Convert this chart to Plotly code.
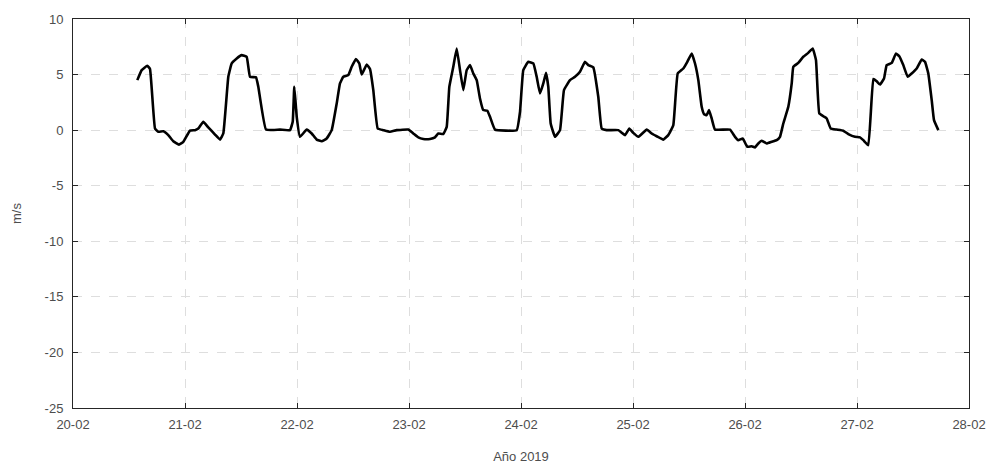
import pandas as pd
import plotly.graph_objects as go

# Hours since 2019-02-20 00:00 and wind speed (m/s)
hours = [13.78, 14.72, 15.92, 16.5, 17.57, 18.28, 19.35, 20.42, 21.49, 22.71, 23.64,
         25.07, 26.14, 26.85, 27.92, 28.99, 30.43, 31.5, 32.21, 33.28, 34.01, 35.08,
         36.15, 37.22, 37.93, 39.21, 39.71, 41.36, 44.36, 46.5, 47.08, 47.42, 47.94,
         48.64, 50.08, 51.15, 52.22, 53.29, 54.36, 55.44, 56.51, 57.21, 57.92, 58.99,
         59.72, 60.64, 61.35, 61.86, 62.94, 63.64, 64.35, 65.29, 66.49, 67.93, 69.36,
         71.85, 72.92, 73.99, 75.06, 76.5, 77.57, 78.28, 79.35, 80.08, 80.64, 81.49,
         82.22, 82.93, 83.64, 84.36, 85.07, 85.78, 86.51, 87.21, 87.92, 88.78, 89.36,
         90.43, 95.08, 95.79, 96.49, 97.56, 98.64, 99.36, 100.07, 100.78, 101.36,
         101.85, 102.36, 103.29, 104.36, 105.21, 106.5, 107.57, 108.64, 109.71,
         110.42, 111.49, 112.56, 113.29, 114.36, 116.85, 118.29, 119.21, 120.06,
         121.14, 122.94, 124.01, 125.08, 126.49, 127.56, 128.64, 129.58, 130.78,
         131.64, 132.58, 133.29, 134.0, 134.72, 135.21, 135.79, 136.29, 136.86,
         137.57, 140.79, 141.86, 142.56, 143.51, 144.5, 145.44, 146.14, 146.85,
         147.58, 148.65, 149.72, 150.79, 151.5, 152.21, 153.28, 154.01, 154.35,
         155.42, 156.49, 157.56, 158.51, 159.21, 159.92, 160.78, 161.51, 162.36,
         163.65, 165.06, 166.14, 167.57, 168.64, 169.35, 170.42, 171.5, 172.22,
         172.93, 173.79, 174.36, 175.44, 176.36, 177.06, 177.92, 178.86, 179.72,
         180.79, 181.86, 182.57, 183.28, 184.01, 184.5, 185.43]
speed = [4.5, 5.4, 5.8, 5.5, 0.15, -0.15, -0.1, -0.45, -1.0, -1.3, -1.05,
         -0.05, 0.0, 0.15, 0.75, 0.25, -0.4, -0.85, -0.3, 4.8, 6.0, 6.45,
         6.75, 6.6, 4.8, 4.75, 3.9, 0.05, 0.05, 0.0, 0.75, 3.9, 1.2,
         -0.6, 0.05, -0.3, -0.85, -1.0, -0.75, 0.0, 2.4, 4.2, 4.8, 4.95,
         5.7, 6.4, 6.0, 5.0, 5.9, 5.5, 3.6, 0.15, 0.0, -0.15, 0.0,
         0.05, -0.3, -0.65, -0.8, -0.8, -0.65, -0.3, -0.35, 0.3, 3.9, 5.7,
         7.35, 5.4, 3.6, 5.4, 5.85, 5.1, 4.5, 2.85, 1.8, 1.75, 1.2,
         0.05, 0.0, 1.65, 5.4, 6.15, 6.0, 4.8, 3.3, 4.2, 5.15,
         3.9, 0.6, -0.6, 0.0, 3.6, 4.5, 4.8, 5.25, 6.15,
         5.85, 5.65, 3.0, 0.15, 0.0, 0.0, -0.45, 0.15, -0.25,
         -0.6, 0.05, -0.3, -0.55, -0.85, -0.45, 0.45, 5.1, 5.55,
         6.15, 6.9, 6.0, 4.5, 2.1, 1.45, 1.35, 1.8, 1.05,
         0.05, 0.05, -0.6, -0.9, -0.75, -1.5, -1.45, -1.55, -1.2,
         -0.95, -1.2, -1.05, -0.9, -0.6, 0.6, 2.1, 4.2, 5.7,
         6.05, 6.6, 6.95, 7.35, 6.3, 1.5, 1.25, 1.05, 0.15,
         0.05, -0.05, -0.35, -0.6, -0.65, -0.9, -1.35, 4.6, 4.4,
         4.1, 4.65, 5.85, 6.05, 6.9, 6.65, 5.85, 4.8, 5.1,
         5.55, 6.35, 6.15, 5.1, 2.7, 0.9, 0.0]

x_tick_dates = ["2019-02-20", "2019-02-21", "2019-02-22", "2019-02-23", "2019-02-24",
                "2019-02-25", "2019-02-26", "2019-02-27", "2019-02-28"]
x_tick_labels = ["20-02", "21-02", "22-02", "23-02", "24-02", "25-02", "26-02", "27-02", "28-02"]
y_tick_vals = [10, 5, 0, -5, -10, -15, -20, -25]
y_tick_labels = ["10", "5", "0", "-5", "-10", "-15", "-20", "-25"]

base = pd.Timestamp("2019-02-20 00:00")
times = base + pd.to_timedelta(hours, unit="h")

FONT = "Liberation Sans, Arial, sans-serif"

fig = go.Figure()
fig.add_trace(go.Scatter(x=times, y=speed, mode="lines",
                         line=dict(color="black", width=2.6, shape="spline", smoothing=0.3),
                         showlegend=False))

axis_common = dict(
    showline=True, linecolor="#262626", linewidth=1, mirror="ticks",
    ticks="inside", ticklen=5, tickcolor="#262626", tickwidth=1,
    showgrid=True, gridcolor="#dedede", griddash="dash", gridwidth=1,
    zeroline=False, automargin=False,
    tickfont=dict(family=FONT, size=13, color="#4d4d4d"),
)

fig.update_layout(
    width=995, height=466,
    margin=dict(l=73, r=26, t=19, b=58),
    paper_bgcolor="white", plot_bgcolor="white",
    xaxis=dict(range=[pd.Timestamp(x_tick_dates[0]), pd.Timestamp(x_tick_dates[-1])],
               tickvals=x_tick_dates, ticktext=x_tick_labels,
               ticklabelstandoff=4,
               title=dict(text="Año 2019", standoff=21,
                          font=dict(family=FONT, size=13, color="#4d4d4d")),
               **axis_common),
    yaxis=dict(range=[-25, 10], tickvals=y_tick_vals, ticktext=y_tick_labels,
               ticklabelstandoff=6,
               title=dict(text="m/s", standoff=20,
                          font=dict(family=FONT, size=13, color="#4d4d4d")),
               **axis_common),
)

fig.write_html("out.html")
